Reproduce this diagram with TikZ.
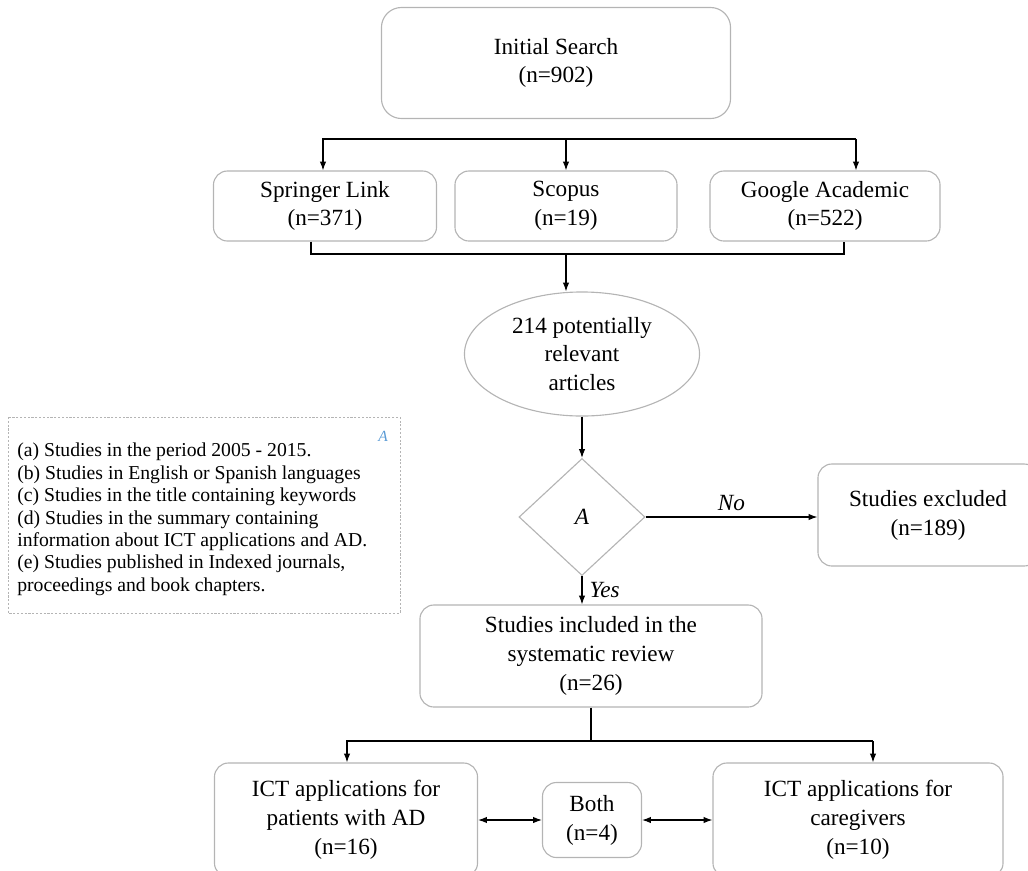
\documentclass[tikz,border=0pt]{standalone}
\usepackage{fontspec}
\setmainfont{Liberation Serif}
\usepackage{xcolor}
\usetikzlibrary{shapes.geometric}
\usetikzlibrary{positioning}
\usetikzlibrary{arrows.meta}
\definecolor{boxgray}{HTML}{B4B4B4}
\definecolor{legendblue}{HTML}{5B9BD5}
\newcommand{\flowfont}{\fontsize{16.5}{20.5}\selectfont}
\newcommand{\critfont}{\fontsize{14}{15.9}\selectfont}
\tikzset{every node/.style={inner sep=0pt},
         stage/.style={draw=boxgray,line width=0.8pt,rounded corners=0.35cm,align=center,font=\flowfont},
         pool/.style={draw=boxgray,line width=0.8pt,ellipse,align=center,font=\flowfont},
         decision/.style={draw=boxgray,line width=0.8pt,diamond,font=\flowfont\itshape},
         link/.style={line width=0.8pt},
         arrow/.style={link,-{Latex[length=0.22cm,width=0.16cm]}},
         twoway/.style={link,{Latex[length=0.22cm,width=0.16cm]}-{Latex[length=0.22cm,width=0.16cm]}},
         answer/.style={font=\flowfont\itshape},
         }
\begin{document}
\begin{tikzpicture}[x=0.025cm,y=-0.025cm]
		\useasboundingbox (0,0) rectangle (1028,870);
		\node[stage,rounded corners=0.5cm,minimum width=8.725cm,minimum height=2.775cm] (init) at (556,63) {Initial Search\\(n=902)};
		\node[stage,minimum width=5.575cm,minimum height=1.75cm] (springer) at (325,206) {Springer Link\\(n=371)};
		\node[stage,minimum width=5.55cm,minimum height=1.75cm] (scopus) at (566,206) {Scopus\\(n=19)};
		\node[stage,minimum width=5.75cm,minimum height=1.75cm] (google) at (825,206) {Google Academic\\(n=522)};
		\node[pool,minimum width=5.875cm,minimum height=3.1cm] (potential) at (582,354) {214 potentially\\relevant\\articles};
		\node[decision,minimum width=3.15cm,minimum height=2.925cm] (critA) at (582,517) {A};
		\node[stage,minimum width=5.5cm,minimum height=2.55cm] (excluded) at (928,515) {Studies excluded\\(n=189)};
		\node[stage,minimum width=8.55cm,minimum height=2.55cm] (included) at (591,656) {Studies included in the\\systematic review\\(n=26)};
		\node[stage,minimum width=6.575cm,minimum height=2.85cm] (patients) at (346,820) {ICT applications for\\patients with AD\\(n=16)};
		\node[stage,minimum width=2.475cm,minimum height=1.875cm] (both) at (592,820) {Both\\(n=4)};
		\node[stage,minimum width=7.25cm,minimum height=2.85cm] (caregivers) at (858,820) {ICT applications for\\caregivers\\(n=10)};
		\draw[boxgray,line width=0.7pt,dash pattern=on 1.5pt off 1.2pt] (8,417) rectangle (400,613);
		\node[anchor=north west,align=left,font=\critfont] (criteria) at (17,443) {(a) Studies in the period 2005 - 2015.\\(b) Studies in English or Spanish languages\\(c) Studies in the title containing keywords\\(d) Studies in the summary containing\\information about ICT applications and AD.\\(e) Studies published in Indexed journals,\\proceedings and book chapters.};
		\node[font=\fontsize{11}{13}\selectfont\itshape,text=legendblue] (tagA) at (383,436) {A};
		\coordinate (splitL) at (323,139);
		\coordinate (splitR) at (856,139);
		\draw[arrow] (splitR) -- (splitL) -- (splitL |- springer.north);
		\draw[arrow] (scopus.north |- splitL) -- (scopus.north);
		\draw[arrow] (splitR) -- (splitR |- google.north);
		\coordinate (mergeL) at (311,254);
		\coordinate (mergeR) at (844,254);
		\draw[link] (mergeL |- springer.south) -- (mergeL) -- (mergeR) -- (mergeR |- google.south);
		\draw[arrow] (scopus.south |- mergeL) -- (scopus.south |- potential.north);
		\draw[arrow] (potential.south) -- (critA.north);
		\draw[arrow] (critA.east) -- (excluded.west |- critA.east) node[answer,pos=0.5,above=4pt] {No};
		\draw[arrow] (critA.south) -- (critA.south |- included.north) node[answer,pos=0.5,right=5pt] {Yes};
		\coordinate (branchL) at (347,741);
		\coordinate (branchR) at (873,741);
		\draw[link] (included.south) -- (included.south |- branchL);
		\draw[arrow] (branchR) -- (branchL) -- (branchL |- patients.north);
		\draw[arrow] (branchR) -- (branchR |- caregivers.north);
		\draw[twoway] (patients.east |- both.west) -- (both.west);
		\draw[twoway] (both.east) -- (caregivers.west |- both.east);
\end{tikzpicture}
\end{document}
